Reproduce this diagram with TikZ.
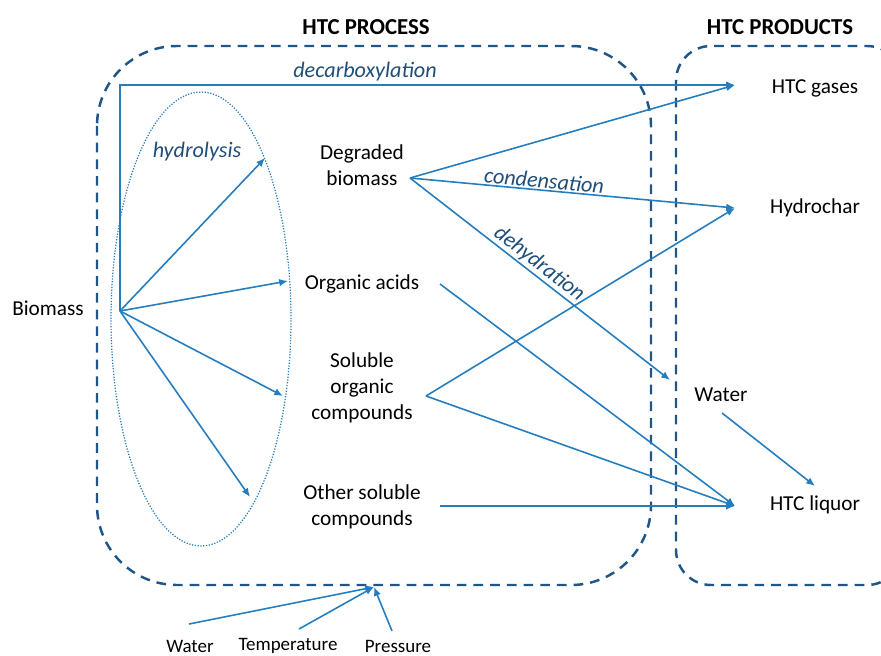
\documentclass[tikz,border=0pt]{standalone}
\usepackage{fontspec}
\setmainfont{Carlito}
\usetikzlibrary{arrows.meta}

\definecolor{flowblue}{RGB}{35,125,190}
\definecolor{boxblue}{RGB}{31,85,135}
\definecolor{labelblue}{RGB}{31,78,121}

\begin{document}
\begin{tikzpicture}[x=0.02cm, y=-0.02cm,
  flow/.style={draw=flowblue, line width=0.9pt, -{Latex[length=5pt,width=4.2pt]}},
  zone/.style={draw=boxblue, line width=1.4pt, dash pattern=on 5.5pt off 4pt},
  item/.style={font=\fontsize{12.1}{14.7}\selectfont, align=center, inner sep=0pt},
  small/.style={font=\fontsize{10.8}{12}\selectfont, inner sep=0pt},
  title/.style={font=\fontsize{13}{15}\selectfont\bfseries, inner sep=0pt},
  route/.style={font=\fontsize{12.6}{14}\selectfont\itshape, text=labelblue, inner sep=0.6pt}]

\useasboundingbox (0,0) rectangle (881,655);

% Titles
\node[title] (process) at (366,27) {HTC PROCESS};
\node[title] (products) at (780,27) {HTC PRODUCTS};

% Process and products zones (products box runs off the right edge)
\draw[zone, rounded corners=1.6cm] (97,46) rectangle (651,585);
\begin{scope}
  \clip (0,0) rectangle (881,655);
  \draw[zone, rounded corners=0.7cm] (676,46) rectangle (902,585);
\end{scope}

% Hydrolysis zone
\draw[flowblue, line width=0.7pt, dash pattern=on 0.7pt off 0.9pt] (201,319) ellipse [x radius=1.8cm, y radius=4.54cm];
\node[route] (hydro) at (197,152) {hydrolysis};

% Feed, intermediates and products
\node[item] (biomass) at (48,308) {Biomass};
\node[item] (degraded) at (362,165) {Degraded\\biomass};
\node[item] (acids) at (362,284) {Organic acids};
\node[item] (soluble) at (362,388) {Soluble\\organic\\compounds};
\node[item] (other) at (362,507) {Other soluble\\compounds};
\node[item] (gases) at (815,88) {HTC gases};
\node[item] (char) at (815,208) {Hydrochar};
\node[item] (water) at (721,395) {Water};
\node[item] (liquor) at (815,505) {HTC liquor};

% Process conditions
\node[small] (inwater) at (190,646) {Water};
\node[small] (temp) at (288,646) {Temperature};
\node[small] (press) at (398,646) {Pressure};

% Connector ends
\coordinate (fan) at (120,311);
\coordinate (h1) at (265,158);
\coordinate (h2) at (288,281);
\coordinate (h3) at (283,396);
\coordinate (h4) at (250,497);
\coordinate (degout) at (410,178);
\coordinate (acidout) at (440,284);
\coordinate (solout) at (426,396);
\coordinate (otherout) at (440,506);
\coordinate (gasin) at (735,85);
\coordinate (charin) at (735,208);
\coordinate (waterin) at (670,380);
\coordinate (liquorin) at (735,506);
\coordinate (waterout) at (722,413);
\coordinate (liquortop) at (815,486);
\coordinate (win) at (189,624);
\coordinate (tin) at (299,629);
\coordinate (pin) at (392,631);
\coordinate (feed) at (374,587);

% Decarboxylation straight to gases
\draw[flow] (fan) |- (gasin);
\node[route] (decarb) at (365,72) {decarboxylation};

% Hydrolysis fan
\foreach \n in {h1,h2,h3,h4}
  \draw[flow] (fan) -- (\n);

% Reactions of the degraded biomass
\draw[flow] (degout) -- (gasin);
\draw[flow] (degout) -- node[route, pos=0.41, sloped, above] {condensation} (charin);
\draw[flow] (degout) -- node[route, pos=0.47, sloped, above] {dehydration} (waterin);

% Dissolved fractions to products
\draw[flow] (acidout) -- (liquorin);
\draw[flow] (solout) -- (charin);
\draw[flow] (solout) -- (liquorin);
\draw[flow] (otherout) -- (liquorin);
\draw[flow] (waterout) -- (liquortop);

% Conditions into the process
\foreach \n in {win,tin,pin}
  \draw[flow] (\n) -- (feed);

\end{tikzpicture}
\end{document}
